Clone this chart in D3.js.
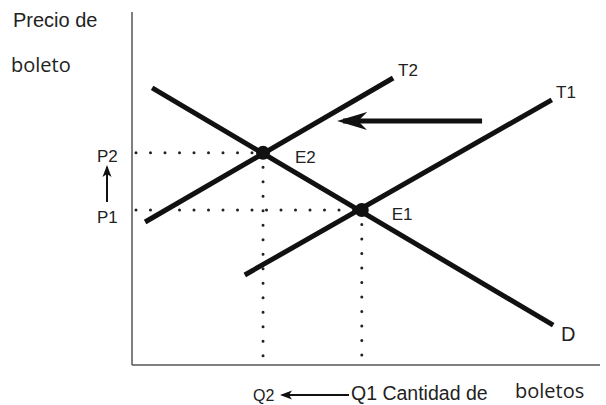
<!DOCTYPE html>
<html>
<head>
<meta charset="utf-8">
<script src="https://cdn.jsdelivr.net/npm/d3@7"></script>
<style>
  body { margin: 0; background: #fff; }
  text { font-family: "Liberation Sans", Arial, sans-serif; fill: #222; }
</style>
</head>
<body>
<svg></svg>
<script>
// curves: [quantity, price] end points (0-100 units)
const demand = [[4.3, 78.5], [90.0, 11.3]]
const supplyT1 = [[24.1, 25.5], [89.7, 75.1]]
const supplyT2 = [[2.8, 40.5], [55.8, 81.3]]

const equilibria = [
    { name: "E1", q: 49.1, p: 43.9 },
    { name: "E2", q: 28.0, p: 60.1 }
]

const shiftArrow = [[74.8, 69.1], [45.1, 69.1]]

let width = 606
let height = 405

let svg = d3.select("svg")
    .attr("width", width)
    .attr("height", height)

let xScale = d3.scaleLinear().domain([0, 100]).range([132, 600])
let yScale = d3.scaleLinear().domain([0, 100]).range([365, 12])

const line = d3.line().x(d => xScale(d[0])).y(d => yScale(d[1]))

// markers (tip points along the path direction)
const defs = svg.append("defs")
defs.append("marker")
    .attr("id", "bighead")
    .attr("viewBox", "0 0 30 20")
    .attr("refX", 24).attr("refY", 10)
    .attr("markerWidth", 30).attr("markerHeight", 20)
    .attr("markerUnits", "userSpaceOnUse")
    .attr("orient", "auto")
    .append("path")
    .attr("d", "M30,10 L0,1 L9,10 L0,19 Z")
    .attr("fill", "#111")

defs.append("marker")
    .attr("id", "smallhead")
    .attr("viewBox", "0 0 12 10")
    .attr("refX", 10).attr("refY", 5)
    .attr("markerWidth", 12).attr("markerHeight", 10)
    .attr("markerUnits", "userSpaceOnUse")
    .attr("orient", "auto")
    .append("path")
    .attr("d", "M12,5 L0,0.5 L3,5 L0,9.5 Z")
    .attr("fill", "#111")

// axes
svg.append("line")
    .attr("x1", xScale(0)).attr("x2", xScale(0))
    .attr("y1", yScale(100)).attr("y2", yScale(0))
    .attr("stroke", "#555").attr("stroke-width", 1.5)

svg.append("line")
    .attr("x1", xScale(0)).attr("x2", xScale(100))
    .attr("y1", yScale(0)).attr("y2", yScale(0))
    .attr("stroke", "#555").attr("stroke-width", 1.5)

// dotted guides
equilibria.forEach(e => {
    svg.append("line")
        .attr("x1", xScale(0) + 4).attr("x2", xScale(e.q))
        .attr("y1", yScale(e.p)).attr("y2", yScale(e.p))
        .attr("stroke", "#222").attr("stroke-width", 3)
        .attr("stroke-linecap", "round")
        .attr("stroke-dasharray", "0 14.5")
    svg.append("line")
        .attr("x1", xScale(e.q)).attr("x2", xScale(e.q))
        .attr("y1", yScale(e.p)).attr("y2", yScale(0))
        .attr("stroke", "#222").attr("stroke-width", 3)
        .attr("stroke-linecap", "round")
        .attr("stroke-dasharray", "0 14.5")
})

// curves
;[demand, supplyT1, supplyT2].forEach(c => {
    svg.append("path")
        .attr("d", line(c))
        .attr("fill", "none")
        .attr("stroke", "#111")
        .attr("stroke-width", 5)
})

// equilibrium points
svg.selectAll("circle")
    .data(equilibria)
    .enter()
    .append("circle")
    .attr("cx", d => xScale(d.q))
    .attr("cy", d => yScale(d.p))
    .attr("r", 7)
    .attr("fill", "#111")

// shift arrow
svg.append("path")
    .attr("d", line(shiftArrow))
    .attr("stroke", "#111")
    .attr("stroke-width", 5)
    .attr("marker-end", "url(#bighead)")

// labels
const label = (x, y, t, size, family) => {
    let el = svg.append("text")
        .attr("x", x).attr("y", y)
        .style("font-size", size + "px")
        .text(t)
    if (family) el.style("font-family", family)
    return el
}

label(13, 27, "Precio de", 20)
label(11, 72, "boleto", 20, "'Open Sans', sans-serif")
label(97, 162, "P2", 17)
label(97, 223, "P1", 17)
label(xScale(28.0) + 32, yScale(60.1) + 10, "E2", 17)
label(xScale(49.1) + 30, yScale(43.9) + 10, "E1", 17)
label(398, 76, "T2", 17)
label(556, 98, "T1", 17)
label(561, 341, "D", 20)
label(253, 401, "Q2", 16)
label(351, 400, "Q1 Cantidad de", 19.5)
label(515, 398, "boletos", 20, "'Open Sans', sans-serif")

// price up arrow
svg.append("line")
    .attr("x1", 107).attr("x2", 107)
    .attr("y1", 202).attr("y2", 167)
    .attr("stroke", "#111").attr("stroke-width", 2)
    .attr("marker-end", "url(#smallhead)")

// quantity arrow
svg.append("line")
    .attr("x1", 349).attr("x2", 282)
    .attr("y1", 395).attr("y2", 395)
    .attr("stroke", "#111").attr("stroke-width", 2)
    .attr("marker-end", "url(#smallhead)")
</script>
</body>
</html>
